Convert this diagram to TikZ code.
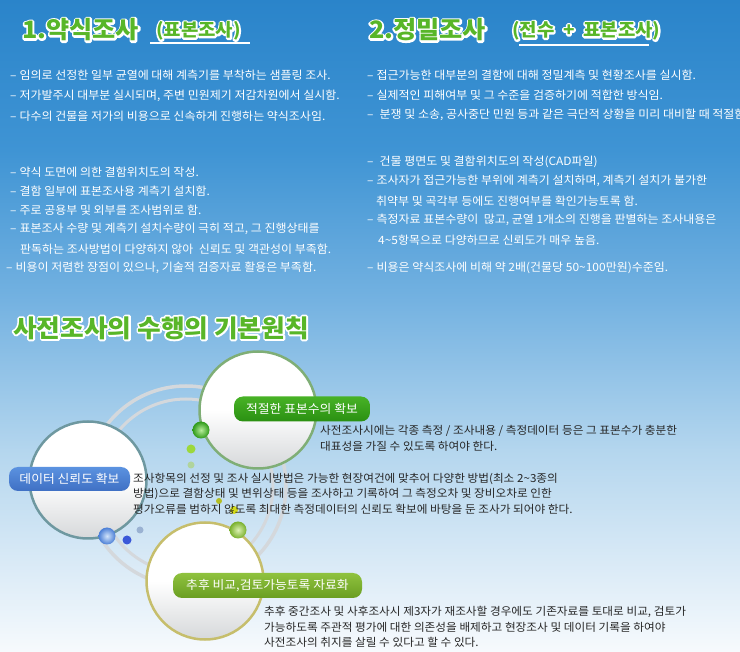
\documentclass[tikz,border=0pt]{standalone}
\usepackage{fontspec}
\setmainfont{Noto Sans CJK KR}[FakeStretch=1.05]
\usetikzlibrary{calc}
\definecolor{bgA}{HTML}{2A84CA}
\definecolor{bgB}{HTML}{3F94D4}
\definecolor{bgC}{HTML}{74B2E1}
\definecolor{bgD}{HTML}{B4D6EE}
\definecolor{bgE}{HTML}{F7FAFD}
\definecolor{hgreen}{HTML}{58B628}
\definecolor{ringgray}{HTML}{D4D8DC}
\definecolor{circbot}{HTML}{D6D8DA}
\definecolor{cGreen}{HTML}{7FAE76}
\definecolor{cTeal}{HTML}{6E98A0}
\definecolor{cOlive}{HTML}{C6BE6C}
\definecolor{labGtop}{HTML}{48B226}
\definecolor{labGbot}{HTML}{2A9012}
\definecolor{labBtop}{HTML}{5B92E0}
\definecolor{labBbot}{HTML}{3F70C4}
\definecolor{labOtop}{HTML}{8FC23E}
\definecolor{labObot}{HTML}{6A9E22}
\definecolor{textdark}{HTML}{262626}
\definecolor{ballGin}{HTML}{B8EE9C}
\definecolor{ballGout}{HTML}{2E9A18}
\definecolor{ballBin}{HTML}{D2E4FA}
\definecolor{ballBout}{HTML}{4A7ED6}
\definecolor{ballOin}{HTML}{DDF2B4}
\definecolor{ballOout}{HTML}{78B02C}
\definecolor{dotLG}{HTML}{9CD83C}
\definecolor{dotFG}{HTML}{B0D49C}
\definecolor{dotBL}{HTML}{3A58D8}
\definecolor{dotGB}{HTML}{9AB2D2}
\definecolor{dotOY}{HTML}{B4BE22}
\definecolor{dotYE}{HTML}{D4DC18}

% white stroked copy under green text (PDF text render mode 2)
\newcommand{\strokeon}{\special{pdf:literal direct q 2 Tr 3.6 w 1 j 1 J}}
\newcommand{\strokeoff}{\special{pdf:literal direct Q}}
\newcommand{\outlinedtext}[5]{%
  \node[anchor=west, inner sep=0, font=#3, text=white] (#1o) at (#2) {\strokeon #5\strokeoff};
  \node[anchor=west, inner sep=0, font=#3, text=#4] (#1) at (#2) {#5};
}

\tikzset{
  toptext/.style={anchor=west, inner sep=0, text=white, font=\fontsize{11.4}{13}\selectfont},
  bodytext/.style={anchor=west, inner sep=0, text=textdark, font=\fontsize{11.1}{13}\selectfont},
  labelbox/.style={rounded corners=9pt, inner sep=0, minimum height=25pt, text=white,
    font=\fontsize{12.2}{14}\selectfont},
  bigcircle/.style={circle, inner sep=0, minimum size=117pt, line width=2.5pt,
    top color=white, bottom color=circbot, middle color=white},
  ringstyle/.style={circle, inner sep=0, draw=ringgray},
  ballstyle/.style={circle, inner sep=0, minimum size=17pt},
  dotstyle/.style={circle, inner sep=0},
  uline/.style={white, line width=2pt}
}

\begin{document}
\begin{tikzpicture}[x=1pt, y=-1pt]
\useasboundingbox (0,0) rectangle (740,652);
\clip (0,0) rectangle (740,652);
% background
\shade[top color=bgA, bottom color=bgB] (0,-1) rectangle (740,151);
\shade[top color=bgB, bottom color=bgC] (0,150) rectangle (740,301);
\shade[top color=bgC, bottom color=bgD] (0,300) rectangle (740,451);
\shade[top color=bgD, bottom color=bgE] (0,450) rectangle (740,653);

% headers
\outlinedtext{h1}{22,30}{\fontsize{24}{26}\selectfont\bfseries}{hgreen}{1.약식조사}
\outlinedtext{h1b}{156,31}{\fontsize{18}{19}\selectfont\bfseries}{hgreen}{(표본조사)}
\draw[uline] (150,43.5) -- (250,43.5);
\outlinedtext{h2}{369,30}{\fontsize{24}{26}\selectfont\bfseries}{hgreen}{2.정밀조사}
\outlinedtext{h2b}{512,31}{\fontsize{18}{19}\selectfont\bfseries}{hgreen}{(전수\ \ +\ \ 표본조사)}
\draw[uline] (519,45) -- (649,45);

% left column
\node[toptext] (l1) at (10,75) {–\hspace{3pt}임의로 선정한 일부 균열에 대해 계측기를 부착하는 샘플링 조사.};
\node[toptext] (l2) at (10,96) {–\hspace{3pt}저가발주시 대부분 실시되며, 주변 민원제기 저감차원에서 실시함.};
\node[toptext] (l3) at (10,116) {–\hspace{3pt}다수의 건물을 저가의 비용으로 신속하게 진행하는 약식조사임.};
\node[toptext] (l4) at (10,172) {–\hspace{3pt}약식 도면에 의한 결함위치도의 작성.};
\node[toptext] (l5) at (10,191) {–\hspace{3pt}결함 일부에 표본조사용 계측기 설치함.};
\node[toptext] (l6) at (10,210) {–\hspace{3pt}주로 공용부 및 외부를 조사범위로 함.};
\node[toptext] (l7) at (10,229) {–\hspace{3pt}표본조사 수량 및 계측기 설치수량이 극히 적고, 그 진행상태를};
\node[toptext] (l8) at (20,249) {판독하는 조사방법이 다양하지 않아\ \ 신뢰도 및 객관성이 부족함.};
\node[toptext] (l9) at (6,268) {–\hspace{3pt}비용이 저렴한 장점이 있으나, 기술적 검증자료 활용은 부족함.};

% right column
\node[toptext] (r1) at (367,75) {–\hspace{3pt}접근가능한 대부분의 결함에 대해 정밀계측 및 현황조사를 실시함.};
\node[toptext] (r2) at (367,95) {–\hspace{3pt}실제적인 피해여부 및 그 수준을 검증하기에 적합한 방식임.};
\node[toptext] (r3) at (367,115) {–\hspace{6pt}분쟁 및 소송, 공사중단 민원 등과 같은 극단적 상황을 미리 대비할 때 적절함.};
\node[toptext] (r4) at (367,162) {–\hspace{6pt}건물 평면도 및 결함위치도의 작성(CAD파일)};
\node[toptext] (r5) at (367,181) {–\hspace{3pt}조사자가 접근가능한 부위에 계측기 설치하며, 계측기 설치가 불가한};
\node[toptext] (r6) at (376,201) {취약부 및 곡각부 등에도 진행여부를 확인가능토록 함.};
\node[toptext] (r7) at (367,220) {–\hspace{3pt}측정자료 표본수량이\ \ 많고, 균열 1개소의 진행을 판별하는 조사내용은};
\node[toptext] (r8) at (378,240) {4\textasciitilde5항목으로 다양하므로 신뢰도가 매우 높음.};
\node[toptext] (r9) at (367,268) {–\hspace{3pt}비용은 약식조사에 비해 약 2배(건물당 50\textasciitilde100만원)수준임.};

% title
\outlinedtext{ttl}{13,328}{\fontsize{24.5}{27}\selectfont\bfseries}{hgreen}{사전조사의 수행의 기본원칙}

% rings
\node[ringstyle, line width=3.5pt, minimum size=200pt] (ring1) at (186,486) {};
\node[ringstyle, line width=3pt, minimum size=174pt] (ring2) at (186,486) {};

% circles
\node[bigcircle, draw=cGreen] (ctop) at (258,410) {};
\node[bigcircle, draw=cTeal] (cleft) at (88,480) {};
\node[bigcircle, draw=cOlive] (cbot) at (205,581) {};

% balls and dots
\node[ballstyle, inner color=ballGin, outer color=ballGout] (bG) at (201,430) {};
\node[ballstyle, inner color=ballBin, outer color=ballBout] (bB) at (107,536) {};
\node[ballstyle, inner color=ballOin, outer color=ballOout] (bO) at (238,530) {};
\node[dotstyle, fill=dotLG, minimum size=9pt] (d1) at (191,449) {};
\node[dotstyle, fill=dotFG, minimum size=7pt] (d2) at (191,465) {};
\node[dotstyle, fill=dotBL, minimum size=9pt] (d3) at (127,540) {};
\node[dotstyle, fill=dotGB, minimum size=7pt] (d4) at (140,530) {};
\node[dotstyle, fill=dotOY, minimum size=6pt] (d5) at (219,501) {};
\node[dotstyle, fill=dotYE, minimum size=8pt] (d6) at (234,510) {};

% label boxes
\node[labelbox, top color=labGtop, bottom color=labGbot, minimum width=136pt] (labG) at (302,409) {적절한 표본수의 확보};
\node[labelbox, top color=labBtop, bottom color=labBbot, minimum width=121pt, minimum height=24pt] (labB) at (69.5,479) {데이터 신뢰도 확보};
\node[labelbox, top color=labOtop, bottom color=labObot, minimum width=189pt] (labO) at (267.5,585.5) {추후 비교,검토가능토록 자료화};

% body texts
\node[bodytext] (g1) at (320,431) {사전조사시에는 각종 측정 / 조사내용 / 측정데이터 등은 그 표본수가 충분한};
\node[bodytext] (g2) at (320,446) {대표성을 가질 수 있도록 하여야 한다.};
\node[bodytext] (t1) at (133,479) {조사항목의 선정 및 조사 실시방법은 가능한 현장여건에 맞추어 다양한 방법(최소 2\textasciitilde3종의};
\node[bodytext] (t2) at (133,494) {방법)으로 결함상태 및 변위상태 등을 조사하고 기록하여 그 측정오차 및 장비오차로 인한};
\node[bodytext] (t3) at (133,509) {평가오류를 범하지 않도록 최대한 측정데이터의 신뢰도 확보에 바탕을 둔 조사가 되어야 한다.};
\node[bodytext] (o1) at (264,612) {추후 중간조사 및 사후조사시 제3자가 재조사할 경우에도 기존자료를 토대로 비교, 검토가};
\node[bodytext] (o2) at (264,627) {가능하도록 주관적 평가에 대한 의존성을 배제하고 현장조사 및 데이터 기록을 하여야};
\node[bodytext] (o3) at (264,642) {사전조사의 취지를 살릴 수 있다고 할 수 있다.};
\end{tikzpicture}
\end{document}
